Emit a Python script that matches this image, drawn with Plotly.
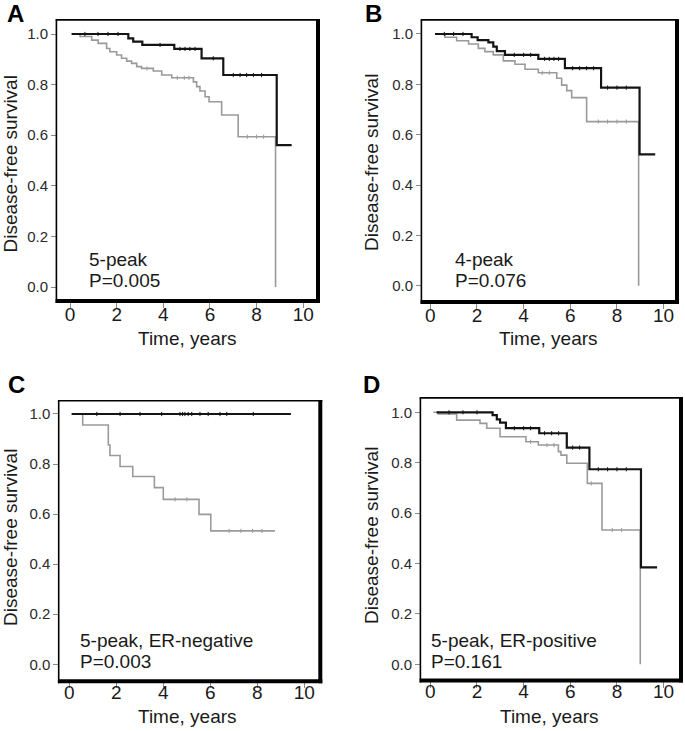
import plotly.graph_objects as go

W, H = 685, 731

# ---------------- data ----------------
# Panel A: 5-peak
a_black_t = [0.07, 2.5, 2.71, 3.1, 4.47, 5.64, 6.57, 8.86, 9.5]
a_black_s = [1.0, 0.983, 0.970, 0.957, 0.941, 0.904, 0.838, 0.561, 0.561]
a_gray_t = [0.07, 0.43, 0.93, 1.21, 1.57, 1.71, 2.0, 2.21, 2.43, 2.64, 2.86, 3.07,
            3.57, 3.93, 4.36, 5.29, 5.43, 5.57, 5.79, 5.96, 6.5, 7.21, 8.81]
a_gray_s = [1.0, 0.99, 0.976, 0.963, 0.943, 0.93, 0.917, 0.904, 0.893, 0.884, 0.871, 0.864,
            0.854, 0.838, 0.827, 0.811, 0.792, 0.775, 0.752, 0.732, 0.68, 0.594, 0.0]
a_black_cens = [0.64, 1.2, 1.63, 2.06, 3.86, 4.71, 4.93, 5.14, 5.36, 6.14, 7.0, 7.29, 7.57, 7.86, 8.21]
a_gray_cens = [3.3, 4.6, 4.9, 5.1, 7.6, 8.0, 8.3]

# Panel B: 4-peak
b_black_t = [0.2, 1.77, 2.03, 2.49, 2.7, 2.85, 3.2, 4.63, 5.77, 7.32, 8.97, 9.64]
b_black_s = [1.0, 0.987, 0.976, 0.967, 0.950, 0.932, 0.917, 0.901, 0.864, 0.787, 0.522, 0.522]
b_gray_t = [0.2, 0.63, 1.13, 1.64, 2.06, 2.34, 2.7, 3.13, 3.63, 4.06, 4.63, 5.42,
            5.63, 5.85, 6.06, 6.7, 8.93]
b_gray_s = [1.0, 0.987, 0.973, 0.960, 0.943, 0.930, 0.917, 0.893, 0.880, 0.860, 0.846, 0.824,
            0.797, 0.775, 0.747, 0.652, 0.0]
b_black_cens = [0.6, 1.0, 1.4, 3.6, 4.0, 4.3, 4.9, 5.1, 5.3, 5.5, 6.1, 6.4, 6.7, 7.0, 7.6, 8.0, 8.4]
b_gray_cens = [4.8, 5.1, 7.2, 7.6, 8.0, 8.4]

# Panel C: 5-peak, ER-negative
c_black_t = [0.1, 9.43]
c_black_s = [1.0, 1.0]
c_gray_t = [0.1, 0.57, 1.66, 1.73, 2.16, 2.7, 3.62, 4.0, 5.52, 6.02, 8.75]
c_gray_s = [1.0, 0.956, 0.876, 0.834, 0.79, 0.75, 0.706, 0.659, 0.599, 0.533, 0.533]
c_black_cens = [1.17, 2.16, 3.01, 3.93, 4.71, 4.82, 4.92, 5.06, 5.21, 5.56, 5.91, 6.41, 6.7, 7.83]
c_gray_cens = [4.5, 5.0, 6.8, 7.3, 7.8, 8.2]

# Panel D: 5-peak, ER-positive
d_black_t = [0.27, 2.67, 2.85, 2.99, 3.24, 4.67, 5.85, 6.82, 9.03, 9.72]
d_black_s = [1.0, 0.989, 0.972, 0.959, 0.937, 0.917, 0.86, 0.774, 0.385, 0.385]
d_gray_t = [0.13, 0.34, 1.13, 2.13, 2.42, 2.99, 4.1, 4.63, 5.49, 5.6, 5.85, 6.73, 7.36, 9.0]
d_gray_s = [1.0, 0.993, 0.969, 0.956, 0.937, 0.903, 0.883, 0.870, 0.844, 0.83, 0.798, 0.718, 0.533, 0.0]
d_black_cens = [0.8, 1.4, 2.0, 3.6, 4.0, 4.3, 4.9, 5.2, 5.5, 6.1, 6.4, 7.2, 7.6, 8.0, 8.4]
d_gray_cens = [4.3, 5.0, 5.3, 6.9, 7.8, 8.2]

x_ticks = [0, 2, 4, 6, 8, 10]
y_ticks = [0.0, 0.2, 0.4, 0.6, 0.8, 1.0]
y_tick_text = ["0.0", "0.2", "0.4", "0.6", "0.8", "1.0"]

panel_letters = ["A", "B", "C", "D"]
panel_labels = ["5-peak", "4-peak", "5-peak, ER-negative", "5-peak, ER-positive"]
panel_pvalues = ["P=0.005", "P=0.076", "P=0.003", "P=0.161"]
x_title = "Time, years"
y_title = "Disease-free survival"

BLACK = "#141414"
GRAY = "#9a9a9a"
FONT = "Arial, Liberation Sans, Helvetica, sans-serif"

# ---------------- layout geometry (pixels) ----------------
panels = [
    dict(box=(57, 316, 20.5, 299), xr=(-0.557, 10.544), yr=(-0.0474, 1.0534), stand=-10,
         letter=(15, 13.5), ytitle=(10.5, 164), xtitle=(187.5, 338), txt=(87, 260, 281),
         data=(a_black_t, a_black_s, a_gray_t, a_gray_s, a_black_cens, a_gray_cens)),
    dict(box=(422, 675, 20.5, 300), xr=(-0.356, 10.489), yr=(-0.0568, 1.0536), stand=-10,
         letter=(373, 13.5), ytitle=(371, 163), xtitle=(548, 338), txt=(452.7, 260, 281),
         data=(b_black_t, b_black_s, b_gray_t, b_gray_s, b_black_cens, b_gray_cens)),
    dict(box=(59.3, 318.3, 401.3, 679.3), xr=(-0.426, 10.596), yr=(-0.0599, 1.0507), stand=-12,
         letter=(16.5, 384.5), ytitle=(10.5, 537.5), xtitle=(187.5, 716), txt=(78.3, 640, 661),
         data=(c_black_t, c_black_s, c_gray_t, c_gray_s, c_black_cens, c_gray_cens)),
    dict(box=(421, 679, 398.5, 678.5), xr=(-0.399, 10.66), yr=(-0.0563, 1.0548), stand=-12,
         letter=(371.5, 384), ytitle=(371, 536), xtitle=(549, 716), txt=(428.7, 640, 661),
         data=(d_black_t, d_black_s, d_gray_t, d_gray_s, d_black_cens, d_gray_cens)),
]


def px(x):
    return x / W


def py(y):
    return 1 - y / H


def step_value(ts, ss, t):
    v = ss[0]
    for ti, si in zip(ts, ss):
        if ti <= t:
            v = si
    return v


fig = go.Figure()
shapes = []
annotations = []

for i, p in enumerate(panels):
    n = "" if i == 0 else str(i + 1)
    xa, ya = "x" + n, "y" + n
    bt, bs, gt, gs, bc, gc = p["data"]
    # gray first, black on top
    fig.add_trace(go.Scatter(x=gt, y=gs, mode="lines", line=dict(color=GRAY, width=1.6, shape="hv"),
                             xaxis=xa, yaxis=ya, showlegend=False, hoverinfo="skip"))
    fig.add_trace(go.Scatter(x=gc, y=[step_value(gt, gs, t) for t in gc], mode="markers",
                             marker=dict(symbol="line-ns", size=3, line=dict(color=GRAY, width=1)),
                             xaxis=xa, yaxis=ya, showlegend=False, hoverinfo="skip"))
    fig.add_trace(go.Scatter(x=bt, y=bs, mode="lines", line=dict(color=BLACK, width=2.2, shape="hv"),
                             xaxis=xa, yaxis=ya, showlegend=False, hoverinfo="skip"))
    fig.add_trace(go.Scatter(x=bc, y=[step_value(bt, bs, t) for t in bc], mode="markers",
                             marker=dict(symbol="line-ns", size=3, line=dict(color=BLACK, width=1)),
                             xaxis=xa, yaxis=ya, showlegend=False, hoverinfo="skip"))

    L, R, T, B = p["box"]
    fig.layout["xaxis" + n] = dict(
        domain=[px(L), px(R)], range=list(p["xr"]), anchor=ya,
        tickmode="array", tickvals=x_ticks, ticktext=[str(v) for v in x_ticks],
        ticks="outside", ticklen=8, tickwidth=1, tickcolor="#8a8a8a",
        ticklabelstandoff=p["stand"],
        tickfont=dict(family=FONT, size=19, color="#1a1a1a"),
        showgrid=False, zeroline=False, showline=False, fixedrange=True,
    )
    fig.layout["yaxis" + n] = dict(
        domain=[py(B), py(T)], range=list(p["yr"]), anchor=xa,
        tickmode="array", tickvals=y_ticks, ticktext=y_tick_text,
        ticks="outside", ticklen=5, tickwidth=1, tickcolor="#8a8a8a",
        tickfont=dict(family=FONT, size=15, color="#2a2a2a"),
        showgrid=False, zeroline=False, showline=False, fixedrange=True,
    )

    # frame: thin left/top, thick right/bottom
    lw, rw = 1.6, 4.0
    shapes += [
        dict(type="line", xref="paper", yref="paper", x0=px(L - 0.6), x1=px(L - 0.6),
             y0=py(T - 0.6), y1=py(B + rw), line=dict(color="black", width=lw), layer="above"),
        dict(type="line", xref="paper", yref="paper", x0=px(L - 1.4), x1=px(R + rw),
             y0=py(T - 0.6), y1=py(T - 0.6), line=dict(color="black", width=lw), layer="above"),
        dict(type="line", xref="paper", yref="paper", x0=px(R + rw / 2), x1=px(R + rw / 2),
             y0=py(T - 1.4), y1=py(B + rw), line=dict(color="black", width=rw), layer="above"),
        dict(type="line", xref="paper", yref="paper", x0=px(L - 1.4), x1=px(R + rw),
             y0=py(B + rw / 2), y1=py(B + rw / 2), line=dict(color="black", width=rw), layer="above"),
    ]

    lx, ly = p["letter"]
    annotations.append(dict(text="<b>%s</b>" % panel_letters[i], xref="paper", yref="paper",
                            x=px(lx), y=py(ly), xanchor="center", yanchor="middle", showarrow=False,
                            font=dict(family=FONT, size=24, color="black")))
    yx, yy = p["ytitle"]
    annotations.append(dict(text=y_title, xref="paper", yref="paper", x=px(yx), y=py(yy),
                            xanchor="center", yanchor="middle", textangle=-90, showarrow=False,
                            font=dict(family=FONT, size=19, color="#1a1a1a")))
    tx, ty = p["xtitle"]
    annotations.append(dict(text=x_title, xref="paper", yref="paper", x=px(tx), y=py(ty),
                            xanchor="center", yanchor="middle", showarrow=False, borderpad=0,
                            font=dict(family=FONT, size=19, color="#1a1a1a")))
    ax_, l1, l2 = p["txt"]
    annotations.append(dict(text=panel_labels[i], xref="paper", yref="paper", x=px(ax_), y=py(l1),
                            xanchor="left", yanchor="middle", showarrow=False,
                            font=dict(family=FONT, size=19, color="#1a1a1a")))
    annotations.append(dict(text=panel_pvalues[i], xref="paper", yref="paper", x=px(ax_), y=py(l2),
                            xanchor="left", yanchor="middle", showarrow=False,
                            font=dict(family=FONT, size=19, color="#1a1a1a")))

fig.update_layout(
    width=W, height=H, margin=dict(l=0, r=0, t=0, b=0),
    paper_bgcolor="white", plot_bgcolor="white",
    shapes=shapes, annotations=annotations, showlegend=False,
    font=dict(family=FONT),
)

fig.write_html("out.html", config={"displayModeBar": False},
               post_script="document.body.style.margin='0';document.body.style.overflow='hidden';")
